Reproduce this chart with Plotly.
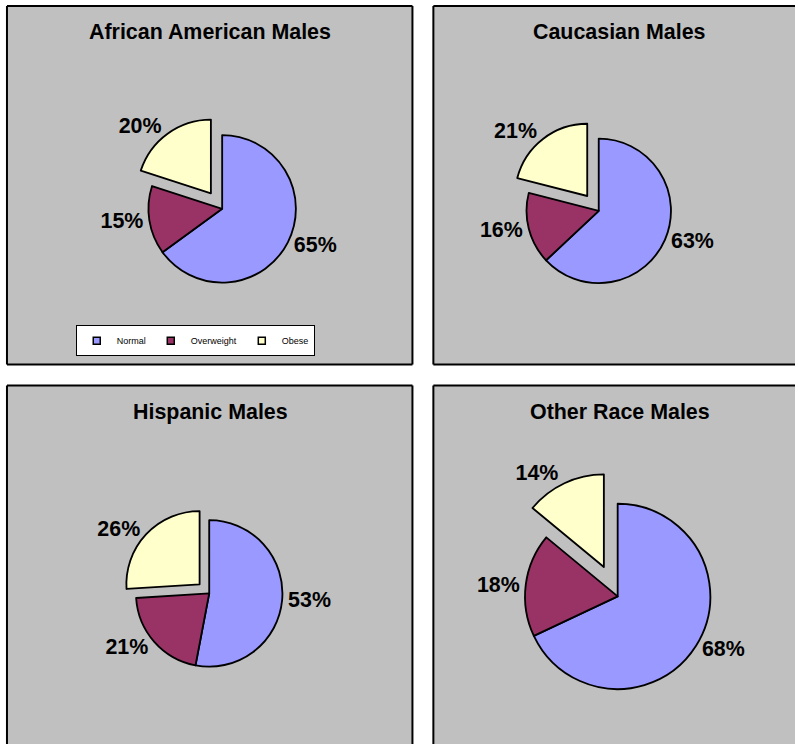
import plotly.graph_objects as go

# reference image size (all positions below are given in these pixel units)
W, H = 798, 744
# the captured area is slightly larger than the window; size the figure to it
FW, FH = 814, 760
K = FW / W  # font / line scale

categories = ["Normal", "Overweight", "Obese"]
colors = ["#9999FF", "#993366", "#FFFFCC"]

titles = ["African American Males", "Caucasian Males", "Hispanic Males", "Other Race Males"]
african_american = [65, 15, 20]
caucasian = [63, 16, 21]
hispanic = [53, 21, 26]
other_race = [68, 18, 14]
series = [african_american, caucasian, hispanic, other_race]

# explode fraction of the "Obese" slice in each pie
pulls = [0.26, 0.26, 0.18, 0.35]

# layout (pixels): panel boxes (clipped to page), visible border edges, pie centres / radii, title centres
panels = [(7, 6, 414, 363), (435, 6, W, 363), (7, 384, 414, H), (435, 384, W, H)]
panel_edges = [("l", "t", "r", "b"), ("l", "t", "b"), ("l", "t", "r"), ("l", "t")]
pie_centres = [(223, 208, 74), (601, 210, 72.5), (210, 591, 73.5), (620, 594, 93)]
title_pos = [(211, 32), (622, 32), (211, 410), (622, 410)]


def px(x):
    return x / W


def py(y):
    return 1 - y / H


fig = go.Figure()

for i, (vals, pull) in enumerate(zip(series, pulls)):
    cx, cy, r = pie_centres[i]
    half = r * (1 + pull)
    fig.add_trace(go.Pie(
        labels=categories,
        values=vals,
        sort=False,
        direction="clockwise",
        rotation=0,
        pull=[0, 0, pull],
        marker=dict(colors=colors, line=dict(color="black", width=1.8 * K)),
        textposition="outside",
        texttemplate="%{percent:.0%}",
        textfont=dict(family="Arial, Liberation Sans", size=21 * K, color="black", weight="bold"),
        domain=dict(x=[px(cx - half), px(cx + half)], y=[py(cy + half), py(cy - half)]),
        showlegend=False,
        hoverinfo="label+percent",
    ))

# legend entries (small square swatches, as in the original)
for cat, col in zip(categories, colors):
    fig.add_trace(go.Scatter(
        x=[None], y=[None], mode="markers", name=cat,
        marker=dict(symbol="square", size=7, color=col, line=dict(color="black", width=1.5)),
    ))

shapes = []
for (x0, y0, x1, y1), edges in zip(panels, panel_edges):
    shapes.append(dict(type="rect", xref="paper", yref="paper",
                       x0=px(x0), x1=px(x1), y0=py(y1), y1=py(y0),
                       fillcolor="#C0C0C0", line=dict(width=0), layer="below"))
    seg = {"l": (x0, y0, x0, y1), "r": (x1, y0, x1, y1), "t": (x0, y0, x1, y0), "b": (x0, y1, x1, y1)}
    for e in edges:
        a, b, c, d = seg[e]
        shapes.append(dict(type="line", xref="paper", yref="paper",
                           x0=px(a), x1=px(c), y0=py(b), y1=py(d),
                           line=dict(color="black", width=2), layer="below"))

annotations = []
for t, (tx, ty) in zip(titles, title_pos):
    annotations.append(dict(text="<b>%s</b>" % t, xref="paper", yref="paper",
                            x=px(tx), y=py(ty), xanchor="center", yanchor="middle",
                            showarrow=False,
                            font=dict(family="Arial, Liberation Sans", size=21 * K, color="black")))

fig.update_layout(
    width=FW, height=FH,
    margin=dict(l=0, r=0, t=0, b=0),
    paper_bgcolor="white",
    plot_bgcolor="rgba(0,0,0,0)",
    xaxis=dict(visible=False),
    yaxis=dict(visible=False),
    shapes=shapes,
    annotations=annotations,
    showlegend=True,
    legend=dict(orientation="h", x=px(196), y=py(339.5), xanchor="center", yanchor="middle",
                bgcolor="white", bordercolor="black", borderwidth=1,
                font=dict(family="Arial, Liberation Sans", size=9, color="black"),
                itemwidth=30, tracegroupgap=0, itemsizing="trace"),
)

fig.write_html("out.html",
               post_script="document.body.style.margin='0';document.body.style.overflow='hidden';")
